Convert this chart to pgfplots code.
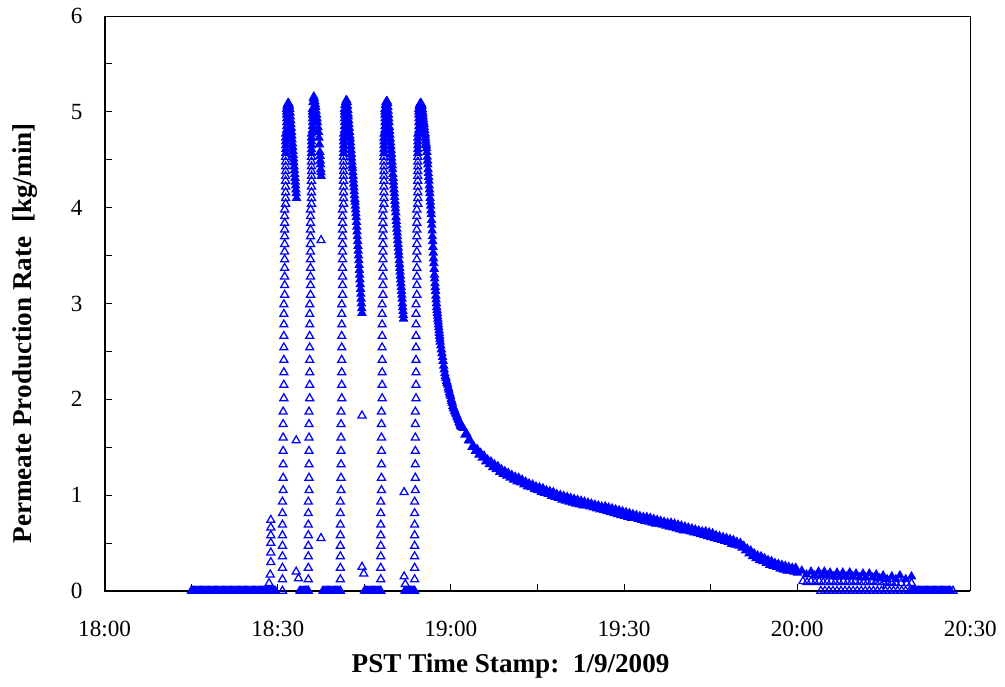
\documentclass[border=0pt]{standalone}
\usepackage{fontspec}
\setmainfont{Liberation Serif}
\usepackage{pgfplots}
\pgfplotsset{compat=1.18}
\usepackage{pgfplotstable}

% rising columns of the five peaks: value v, time (min after 18:00) for peaks 1..5
\pgfplotstableread{
v a b c d e
0.00 30.82 35.30 40.85 47.85 53.72
0.12 30.82 35.30 40.85 47.85 53.72
0.24 30.82 35.30 40.85 47.85 53.72
0.36 30.82 35.30 40.85 47.85 53.72
0.47 30.82 35.30 40.85 47.85 53.72
0.58 30.82 35.30 40.85 47.85 53.72
0.69 30.82 35.30 40.85 47.85 53.72
0.81 30.82 35.30 40.85 47.85 53.72
0.93 30.82 35.30 40.85 47.85 53.72
1.05 30.94 35.42 40.97 47.97 53.84
1.18 30.94 35.42 40.97 47.97 53.84
1.32 30.94 35.42 40.97 47.97 53.84
1.46 30.94 35.42 40.97 47.97 53.84
1.60 30.94 35.42 40.97 47.97 53.84
1.74 30.94 35.42 40.97 47.97 53.84
1.87 30.94 35.42 40.97 47.97 53.84
2.01 31.06 35.54 41.09 48.09 53.96
2.15 31.06 35.54 41.09 48.09 53.96
2.28 31.06 35.54 41.09 48.09 53.96
2.41 31.06 35.54 41.09 48.09 53.96
2.54 31.06 35.54 41.09 48.09 53.96
2.66 31.06 35.54 41.09 48.09 53.96
2.78 31.06 35.54 41.09 48.09 53.96
2.89 31.06 35.54 41.09 48.09 53.96
2.99 31.06 35.54 41.09 48.09 53.96
3.09 31.20 35.68 41.23 48.23 54.10
3.19 31.20 35.68 41.23 48.23 54.10
3.28 31.20 35.68 41.23 48.23 54.10
3.37 31.20 35.68 41.23 48.23 54.10
3.46 31.20 35.68 41.23 48.23 54.10
3.54 31.20 35.68 41.23 48.23 54.10
3.62 31.20 35.68 41.23 48.23 54.10
3.70 31.20 35.68 41.23 48.23 54.10
3.77 31.20 35.68 41.23 48.23 54.10
3.84 31.20 35.68 41.23 48.23 54.10
3.91 31.20 35.68 41.23 48.23 54.10
3.98 31.20 35.68 41.23 48.23 54.10
4.04 31.37 35.85 41.40 48.40 54.27
4.10 31.37 35.85 41.40 48.40 54.27
4.16 31.37 35.85 41.40 48.40 54.27
4.22 31.37 35.85 41.40 48.40 54.27
4.28 31.37 35.85 41.40 48.40 54.27
4.33 31.37 35.85 41.40 48.40 54.27
4.38 31.37 35.85 41.40 48.40 54.27
4.43 31.37 35.85 41.40 48.40 54.27
4.48 31.37 35.85 41.40 48.40 54.27
4.53 31.37 35.85 41.40 48.40 54.27
4.57 31.37 35.85 41.40 48.40 54.27
4.61 31.37 35.85 41.40 48.40 54.27
4.65 31.37 35.85 41.40 48.40 54.27
4.69 31.37 35.85 41.40 48.40 54.27
4.73 31.37 35.85 41.40 48.40 54.27
4.77 31.37 35.85 41.40 48.40 54.27
4.81 31.54 36.02 41.57 48.57 54.44
4.85 31.54 36.02 41.57 48.57 54.44
4.89 31.54 36.02 41.57 48.57 54.44
4.93 31.54 36.02 41.57 48.57 54.44
4.97 31.54 36.02 41.57 48.57 54.44
5.00 31.54 36.02 41.57 48.57 54.44
5.03 31.54 36.02 41.57 48.57 54.44
}\rises

\pgfplotsset{
  dat/.style={only marks, mark=triangle, mark size=1.85pt, color=blue,
    mark options={line width=0.5pt, solid}},
  datf/.style={only marks, mark=triangle*, mark size=1.85pt, color=blue,
    mark options={line width=0.4pt, solid, fill=blue}},
}

\begin{document}
\begin{tikzpicture}
\begin{axis}[
  scale only axis, width=347.6pt, height=230.8pt,
  xmin=0, xmax=150, ymin=0, ymax=6, clip=false,
  xtick={0,30,60,90,120,150},
  xticklabels={18:00,18:30,19:00,19:30,20:00,20:30},
  minor xtick={15,45,75,105,135},
  ytick={0,1,2,3,4,5,6},
  minor ytick={0.5,1.5,2.5,3.5,4.5,5.5},
  tick align=inside, xtick pos=lower, ytick pos=left,
  major tick length=2.8pt, minor tick length=2.8pt,
  every tick/.style={black, line width=0.4pt},
  axis line style={line width=0.4pt},
  /pgf/number format/assume math mode=true,
  tick label style={font=\fontsize{9.3}{11}\selectfont},
  xticklabel style={yshift=-8.5pt},
  yticklabel style={xshift=-5.3pt},
  label style={font=\bfseries\fontsize{10.9}{13}\selectfont},
  xlabel={PST Time Stamp:\ \ 1/9/2009},
  ylabel={Permeate Production Rate\ \ [kg/min]},
  xlabel style={at={(axis description cs:0.469,-0.131)}, anchor=center},
  ylabel style={at={(axis description cs:-0.092,0.448)}, anchor=center},
]
\draw[line width=0.75pt] (rel axis cs:0,1) -- (rel axis cs:0,0) -- (rel axis cs:1,0);
\coordinate (bbsw) at (rel axis cs:-0.1208,-0.1560);
\coordinate (bbne) at (rel axis cs:1.0357,1.0243);

% zero-rate stretches (dense)
\addplot[datf] coordinates {
(15.0,0)(15.2,0)(15.4,0)(15.6,0)(15.8,0)(16.0,0)(16.2,0)(16.4,0)(16.6,0)(16.8,0)
(17.0,0)(17.2,0)(17.4,0)(17.6,0)(17.8,0)(18.0,0)(18.2,0)(18.4,0)(18.6,0)(18.8,0)
(19.0,0)(19.2,0)(19.4,0)(19.6,0)(19.8,0)(20.0,0)(20.2,0)(20.4,0)(20.6,0)(20.8,0)
(21.0,0)(21.2,0)(21.4,0)(21.6,0)(21.8,0)(22.0,0)(22.2,0)(22.4,0)(22.6,0)(22.8,0)
(23.0,0)(23.2,0)(23.4,0)(23.6,0)(23.8,0)(24.0,0)(24.2,0)(24.4,0)(24.6,0)(24.8,0)
(25.0,0)(25.2,0)(25.4,0)(25.6,0)(25.8,0)(26.0,0)(26.2,0)(26.4,0)(26.6,0)(26.8,0)
(27.0,0)(27.2,0)(27.4,0)(27.6,0)(27.8,0)(28.0,0)(28.2,0)(28.4,0)(28.6,0)(28.8,0)
(29.0,0)(29.2,0)(29.4,0)(29.6,0)
(33.8,0)(34.0,0)(34.2,0)(34.4,0)(34.6,0)(34.8,0)(35.0,0)(35.2,0)
(37.8,0)(38.0,0)(38.2,0)(38.4,0)(38.6,0)(38.8,0)(39.0,0)(39.2,0)(39.4,0)(39.6,0)
(39.8,0)(40.0,0)(40.2,0)(40.4,0)(40.6,0)
(45.0,0)(45.2,0)(45.4,0)(45.6,0)(45.8,0)(46.0,0)(46.2,0)(46.4,0)(46.6,0)(46.8,0)
(47.0,0)(47.2,0)(47.4,0)(47.6,0)
(52.0,0)(52.2,0)(52.4,0)(52.6,0)(52.8,0)(53.0,0)(53.2,0)(53.4,0)(53.6,0)
(139.8,0)(140.0,0)(140.2,0)(140.4,0)(140.6,0)(140.8,0)(141.0,0)(141.2,0)(141.4,0)
(141.6,0)(141.8,0)(142.0,0)(142.2,0)(142.4,0)(142.6,0)(142.8,0)(143.0,0)(143.2,0)
(143.4,0)(143.6,0)(143.8,0)(144.0,0)(144.2,0)(144.4,0)(144.6,0)(144.8,0)(145.0,0)
(145.2,0)(145.4,0)(145.6,0)(145.8,0)(146.0,0)(146.2,0)(146.4,0)(146.6,0)
};
% zero readings after 20:00 (sparser)
\addplot[dat] coordinates {
(124.1,0)(124.8,0)(125.5,0)(126.2,0)(126.9,0)(127.6,0)(128.3,0)(129.0,0)(129.7,0)
(130.4,0)(131.1,0)(131.8,0)(132.5,0)(133.2,0)(133.9,0)(134.6,0)(135.3,0)(136.0,0)
(136.7,0)(137.4,0)(138.1,0)(138.8,0)(139.5,0)(147.0,0)
};

% rising columns: sparse lower part, dense upper part
\addplot[dat, restrict y to domain=0:4.55] table[x=a,y=v]{\rises};
\addplot[dat, restrict y to domain=0:4.55] table[x=b,y=v]{\rises};
\addplot[dat, restrict y to domain=0:4.55] table[x=c,y=v]{\rises};
\addplot[dat, restrict y to domain=0:4.55] table[x=d,y=v]{\rises};
\addplot[dat, restrict y to domain=0:4.55] table[x=e,y=v]{\rises};
\addplot[datf, restrict y to domain=4.55:6] table[x=a,y=v]{\rises};
\addplot[datf, restrict y to domain=4.55:6] table[x=b,y=v]{\rises};
\addplot[datf, restrict y to domain=4.55:6] table[x=c,y=v]{\rises};
\addplot[datf, restrict y to domain=4.55:6] table[x=d,y=v]{\rises};
\addplot[datf, restrict y to domain=4.55:6] table[x=e,y=v]{\rises};

% isolated points
\addplot[dat] coordinates {
(28.5,0.08)(28.7,0.17)(28.8,0.30)(28.8,0.40)(28.8,0.50)(28.8,0.58)(28.8,0.66)(28.8,0.74)
(33.2,1.57)(33.2,0.20)(33.6,0.13)
(37.5,3.66)(37.5,0.55)
(44.6,1.83)(44.6,0.25)(44.9,0.18)
(51.9,1.03)(51.9,0.15)(52.1,0.07)
};

% peak 1 cap and fall
\addplot[datf] coordinates {
(31.62,5.06)(31.70,5.08)(31.78,5.09)(31.86,5.09)(31.94,5.08)(32.02,5.06)
(32.10,5.03)(32.15,4.99)(32.20,4.95)(32.25,4.91)(32.30,4.87)(32.35,4.83)(32.40,4.79)
(32.45,4.75)(32.50,4.71)(32.55,4.67)(32.60,4.63)(32.65,4.59)(32.70,4.55)(32.75,4.51)
(32.80,4.47)(32.85,4.43)(32.90,4.39)(32.95,4.35)(33.00,4.31)(33.05,4.27)(33.10,4.23)
(33.15,4.19)(33.20,4.15)(33.26,4.10)
};
% peak 2
\addplot[datf] coordinates {
(36.10,5.10)(36.18,5.14)(36.26,5.16)(36.34,5.14)(36.42,5.11)(36.50,5.08)(36.58,5.05)
(36.66,5.01)(36.74,4.97)(36.82,4.93)(36.90,4.89)(36.98,4.84)(37.06,4.79)(37.14,4.73)
(37.22,4.66)(37.30,4.58)(37.34,4.54)(37.38,4.49)(37.42,4.45)(37.45,4.40)(37.49,4.37)
(37.52,4.33)
};
% peak 3
\addplot[datf] coordinates {
(41.65,5.07)(41.75,5.10)(41.85,5.12)(41.95,5.12)(42.05,5.10)
(42.10,5.06)(42.15,5.02)(42.20,4.98)(42.25,4.95)(42.30,4.91)(42.35,4.87)(42.40,4.83)
(42.45,4.79)(42.50,4.75)(42.55,4.72)(42.60,4.68)(42.65,4.64)(42.70,4.60)
(42.75,4.56)(42.80,4.52)(42.85,4.48)(42.90,4.44)(42.95,4.41)(43.00,4.37)(43.05,4.33)
(43.10,4.29)(43.15,4.25)(43.20,4.21)(43.25,4.17)(43.30,4.13)(43.35,4.09)(43.40,4.06)
(43.45,4.02)(43.50,3.98)(43.55,3.94)(43.60,3.90)
(43.65,3.85)(43.70,3.80)(43.75,3.75)(43.80,3.70)(43.85,3.65)(43.90,3.60)(43.95,3.55)
(44.00,3.50)(44.05,3.45)(44.10,3.40)(44.15,3.35)(44.20,3.30)(44.25,3.25)(44.30,3.20)
(44.35,3.15)(44.40,3.10)(44.45,3.05)(44.50,3.00)(44.55,2.95)(44.60,2.90)
};
% peak 4
\addplot[datf] coordinates {
(48.65,5.07)(48.75,5.10)(48.85,5.11)(48.95,5.11)(49.05,5.09)
(49.10,5.05)(49.15,5.01)(49.20,4.97)(49.25,4.93)(49.30,4.89)(49.35,4.84)(49.40,4.80)
(49.45,4.76)(49.50,4.72)(49.55,4.68)(49.60,4.64)(49.65,4.60)(49.70,4.56)(49.75,4.52)
(49.80,4.48)(49.85,4.44)(49.90,4.40)(49.95,4.35)(50.00,4.31)(50.05,4.27)(50.10,4.23)
(50.15,4.19)(50.20,4.15)(50.25,4.11)(50.30,4.07)(50.35,4.03)(50.40,3.99)(50.45,3.95)
(50.50,3.90)(50.55,3.86)(50.60,3.82)(50.65,3.78)(50.70,3.74)(50.75,3.70)(50.80,3.66)
(50.85,3.62)(50.90,3.58)(50.95,3.54)(51.00,3.50)(51.05,3.45)(51.10,3.41)(51.15,3.37)
(51.20,3.33)(51.25,3.29)(51.30,3.25)(51.35,3.21)(51.40,3.17)(51.45,3.13)(51.50,3.09)
(51.55,3.05)(51.60,3.00)(51.65,2.96)(51.70,2.92)(51.75,2.88)(51.80,2.84)
};
% peak 5 and the long decline
\addplot[datf] coordinates {
(54.52,5.06)(54.62,5.08)(54.72,5.09)(54.82,5.09)(54.92,5.08)
(55.00,5.06)(55.05,5.03)(55.10,5.00)(55.15,4.98)(55.20,4.95)(55.25,4.92)(55.30,4.89)
(55.35,4.87)(55.40,4.84)(55.45,4.81)(55.50,4.78)(55.55,4.76)(55.60,4.73)(55.65,4.70)
(55.70,4.67)(55.75,4.65)(55.80,4.62)
(55.85,4.58)(55.90,4.53)(55.95,4.49)(56.00,4.45)(56.05,4.40)(56.10,4.36)(56.15,4.32)
(56.20,4.28)(56.25,4.23)(56.30,4.19)(56.35,4.15)(56.40,4.10)(56.45,4.06)(56.50,4.02)
(56.55,3.97)(56.60,3.93)
(56.65,3.87)(56.70,3.82)(56.75,3.76)(56.80,3.70)(56.85,3.65)(56.90,3.59)(56.95,3.53)
(57.00,3.47)(57.05,3.42)(57.10,3.36)(57.15,3.30)
(57.20,3.26)(57.25,3.21)(57.30,3.17)(57.35,3.13)(57.40,3.08)(57.45,3.04)(57.50,3.00)
(57.55,2.96)(57.60,2.93)(57.65,2.90)(57.70,2.87)(57.75,2.84)(57.80,2.81)(57.85,2.78)
(57.90,2.75)(57.95,2.72)(58.00,2.69)(58.05,2.66)(58.10,2.63)(58.15,2.60)
(58.25,2.56)(58.35,2.52)(58.45,2.48)(58.55,2.44)(58.65,2.40)(58.75,2.35)(58.85,2.31)
(58.95,2.27)(59.05,2.24)(59.15,2.22)(59.25,2.19)(59.35,2.17)(59.45,2.15)(59.55,2.12)
(59.65,2.10)(59.75,2.07)(59.85,2.05)(59.95,2.03)(60.05,2.00)(60.15,1.98)(60.25,1.96)
(60.35,1.93)(60.45,1.91)(60.55,1.90)(60.65,1.88)(60.75,1.87)(60.85,1.85)(60.95,1.84)
(61.05,1.82)(61.15,1.81)(61.25,1.79)(61.35,1.78)(61.45,1.76)(61.55,1.75)(61.65,1.73)
(61.75,1.72)(61.85,1.71)
(62.15,1.70)(62.45,1.63)(62.75,1.64)(63.05,1.57)(63.35,1.57)(63.65,1.50)(63.95,1.51)
(64.25,1.46)(64.55,1.48)(64.85,1.42)(65.15,1.44)(65.45,1.39)(65.75,1.41)(66.05,1.35)
(66.35,1.37)(66.65,1.32)(66.95,1.35)(67.25,1.29)(67.55,1.32)(67.85,1.27)(68.15,1.30)
(68.45,1.24)(68.75,1.27)(69.05,1.22)(69.35,1.25)(69.65,1.20)(69.95,1.23)
(70.25,1.18)(70.55,1.21)(70.85,1.16)(71.15,1.19)(71.45,1.14)(71.75,1.18)(72.05,1.13)
(72.35,1.16)(72.65,1.11)(72.95,1.14)(73.25,1.09)(73.55,1.12)(73.85,1.08)(74.15,1.11)
(74.45,1.06)(74.75,1.09)(75.05,1.05)(75.35,1.08)(75.65,1.03)(75.95,1.07)(76.25,1.02)
(76.55,1.05)(76.85,1.01)(77.15,1.04)(77.45,0.99)(77.75,1.03)(78.05,0.98)(78.35,1.01)
(78.65,0.97)(78.95,1.00)(79.25,0.95)(79.55,0.99)(79.85,0.94)(80.15,0.98)(80.45,0.93)
(80.75,0.97)(81.05,0.92)(81.35,0.96)(81.65,0.91)(81.95,0.95)(82.25,0.90)(82.55,0.94)
(82.85,0.89)(83.15,0.93)(83.45,0.89)(83.75,0.92)(84.05,0.88)(84.35,0.91)(84.65,0.87)
(84.95,0.90)(85.25,0.86)(85.55,0.89)(85.85,0.85)(86.15,0.88)(86.45,0.84)(86.75,0.88)
(87.05,0.83)(87.35,0.87)(87.65,0.82)(87.95,0.86)(88.25,0.81)(88.55,0.85)(88.85,0.80)
(89.15,0.84)(89.45,0.79)(89.75,0.83)(90.05,0.78)(90.35,0.82)(90.65,0.77)(90.95,0.81)
(91.25,0.76)(91.55,0.80)(91.85,0.76)(92.15,0.79)(92.45,0.75)(92.75,0.78)(93.05,0.74)
(93.35,0.77)(93.65,0.73)(93.95,0.77)(94.25,0.72)(94.55,0.76)(94.85,0.71)(95.15,0.75)
(95.45,0.70)(95.75,0.74)(96.05,0.70)(96.35,0.73)(96.65,0.69)(96.95,0.72)(97.25,0.68)
(97.55,0.71)(97.85,0.67)(98.15,0.71)(98.45,0.66)(98.75,0.70)(99.05,0.65)(99.35,0.69)
(99.65,0.64)(99.95,0.68)(100.25,0.63)(100.55,0.67)(100.85,0.63)(101.15,0.66)
(101.45,0.62)(101.75,0.65)(102.05,0.61)(102.35,0.64)(102.65,0.60)(102.95,0.63)
(103.25,0.59)(103.55,0.62)(103.85,0.58)(104.15,0.62)(104.45,0.57)(104.75,0.61)
(105.05,0.56)(105.35,0.60)(105.65,0.55)(105.95,0.58)(106.25,0.54)(106.55,0.57)
(106.85,0.53)(107.15,0.56)(107.45,0.52)(107.75,0.55)(108.05,0.51)(108.35,0.54)
(108.65,0.49)(108.95,0.53)(109.25,0.48)(109.55,0.51)(109.85,0.47)(110.15,0.50)
(110.45,0.45)(110.75,0.47)(111.05,0.42)(111.35,0.44)(111.65,0.39)(111.95,0.42)
(112.25,0.36)(112.55,0.39)(112.85,0.34)(113.15,0.37)(113.45,0.32)(113.75,0.36)
(114.05,0.31)(114.35,0.34)(114.65,0.29)(114.95,0.32)(115.25,0.27)(115.55,0.31)
(115.85,0.26)(116.15,0.29)(116.45,0.25)(116.75,0.28)(117.05,0.23)(117.35,0.27)
(117.65,0.22)(117.95,0.26)(118.25,0.21)(118.55,0.25)(118.85,0.21)(119.15,0.24)
(119.45,0.20)(119.75,0.24)(120.05,0.19)
};
% low readings after 20:00: upper row
\addplot[datf] coordinates {
(120.8,0.21)(122.4,0.20)(123.7,0.20)(124.7,0.20)(125.7,0.19)(126.9,0.19)(127.9,0.19)
(129.1,0.19)(130.2,0.18)(131.4,0.18)(132.5,0.18)(133.7,0.17)(134.9,0.16)(136.4,0.15)
(137.8,0.16)(139.8,0.15)
(121.6,0.17)(123.0,0.16)(124.2,0.16)(125.2,0.16)(126.3,0.15)(127.4,0.15)(128.5,0.15)
(129.6,0.15)(130.8,0.14)(131.9,0.14)(133.1,0.14)(134.3,0.13)(135.6,0.12)(137.1,0.12)
(138.8,0.12)
};
% low readings after 20:00: middle row
\addplot[dat] coordinates {
(121.0,0.10)(121.7,0.09)(122.4,0.10)(123.1,0.09)(123.8,0.10)(124.5,0.09)(125.2,0.09)
(125.9,0.10)(126.6,0.09)(127.3,0.09)(128.0,0.10)(128.7,0.09)(129.4,0.09)(130.1,0.10)
(130.8,0.09)(131.5,0.09)(132.2,0.09)(132.9,0.10)(133.6,0.09)(134.3,0.09)(135.0,0.09)
(135.7,0.08)(136.4,0.09)(137.1,0.08)(138.0,0.08)(139.0,0.08)(139.8,0.08)
};
\end{axis}
\path[use as bounding box] (bbsw) rectangle (bbne);
\end{tikzpicture}
\end{document}
